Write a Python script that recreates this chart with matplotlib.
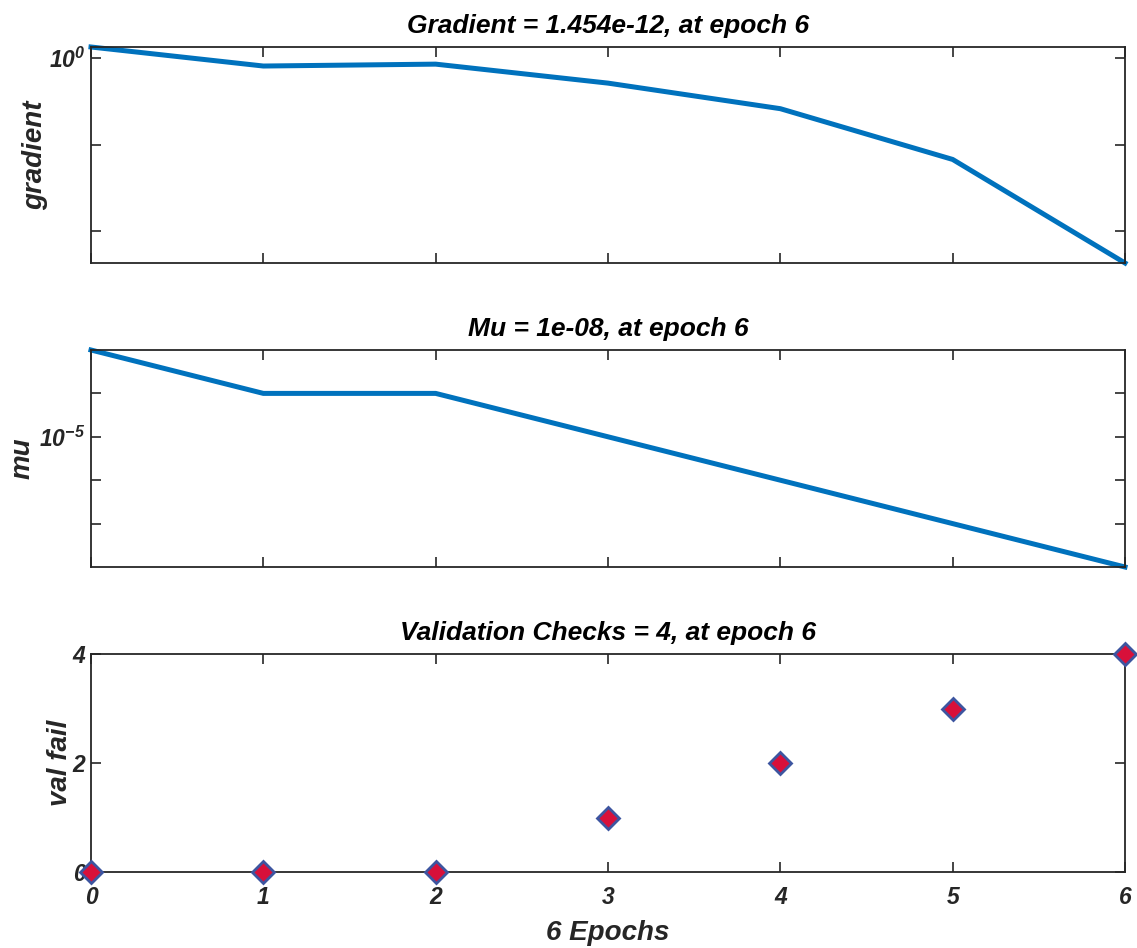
import numpy as np
import matplotlib
matplotlib.use("Agg")
import matplotlib.pyplot as plt

# training state values
epochs = [0, 1, 2, 3, 4, 5, 6]
gradient = [4.4, 0.35, 0.45, 3.6e-2, 1.2e-3, 1.4e-6, 1.454e-12]
mu = [1e-3, 1e-4, 1e-4, 1e-5, 1e-6, 1e-7, 1e-8]
val_fail = [0, 0, 0, 1, 2, 3, 4]

titles = [
    "Gradient = 1.454e-12, at epoch 6",
    "Mu = 1e-08, at epoch 6",
    "Validation Checks = 4, at epoch 6",
]

plt.rcParams["font.family"] = ["Liberation Sans", "DejaVu Sans"]
plt.rcParams["font.weight"] = "bold"
plt.rcParams["font.style"] = "italic"
plt.rcParams["axes.labelweight"] = "bold"
plt.rcParams["mathtext.fontset"] = "custom"
plt.rcParams["mathtext.rm"] = "Liberation Sans:italic:bold"
plt.rcParams["mathtext.it"] = "Liberation Sans:italic:bold"
plt.rcParams["mathtext.default"] = "rm"

BLUE = "#0072BD"
TXT = "#262626"

W, H = 1137, 948
fig = plt.figure(figsize=(W / 100, H / 100), dpi=100)

def px_axes(top, bottom, left=91, right=1125):
    return fig.add_axes([left / W, 1 - bottom / H, (right - left) / W, (bottom - top) / H])

ax1 = px_axes(47, 263)
ax2 = px_axes(350, 567)
ax3 = px_axes(654, 872)

for ax, t in zip([ax1, ax2, ax3], titles):
    ax.set_title(t, fontsize=19, fontweight="bold", style="italic", color="black", pad=10)
    ax.set_xlim(0, 6)
    ax.set_xticks(epochs)
    ax.tick_params(direction="in", top=True, right=True, length=7, width=1.2,
                   labelsize=16.5, colors=TXT, which="both")
    ax.tick_params(axis="x", pad=10)
    ax.tick_params(axis="y", pad=4)
    ax.tick_params(which="minor", length=0)
    for sp in ax.spines.values():
        sp.set_linewidth(1.3)
        sp.set_color(TXT)

# gradient
ax1.semilogy(epochs, gradient, color=BLUE, linewidth=3.6, clip_on=False)
ax1.set_ylim(min(gradient), max(gradient))
ax1.set_yticks([1e-10, 1e-5, 1e0])
ax1.set_yticklabels(["", "", r"$10^{0}$"])
ax1.set_xticklabels([])
ax1.set_ylabel("gradient", fontsize=20, color=TXT, labelpad=1)

# mu
ax2.semilogy(epochs, mu, color=BLUE, linewidth=3.6, clip_on=False)
ax2.set_ylim(min(mu), max(mu))
ax2.set_yticks([1e-7, 1e-6, 1e-5, 1e-4])
ax2.set_yticklabels(["", "", r"$10^{-5}$", ""])
ax2.set_xticklabels([])
ax2.set_ylabel("mu", fontsize=20, color=TXT, labelpad=3)

# validation checks
ax3.plot(epochs, val_fail, linestyle="none", marker="D", markersize=11,
         markerfacecolor="#D8103A", markeredgecolor="#3D55A0", markeredgewidth=2,
         clip_on=False, zorder=5)
ax3.set_ylim(0, 4)
ax3.set_yticks([0, 2, 4])
ax3.set_ylabel("val fail", fontsize=20, color=TXT, labelpad=0)
ax3.set_xlabel("6 Epochs", fontsize=20, color=TXT, labelpad=8)

fig.savefig("out.png", dpi=100)
